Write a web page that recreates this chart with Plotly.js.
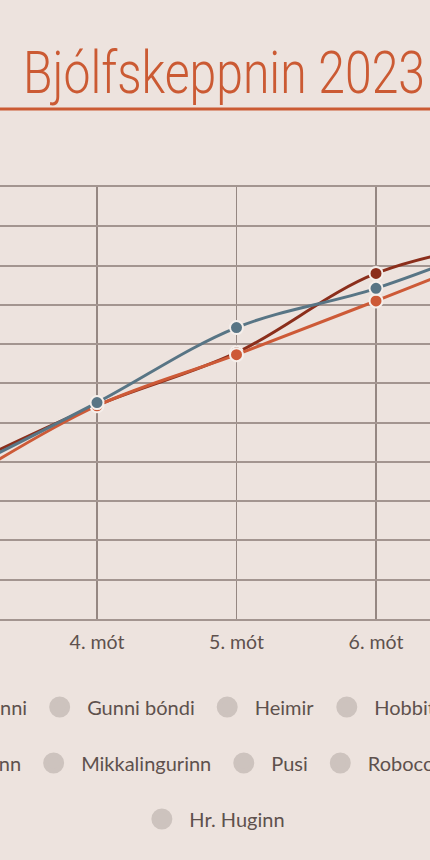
<!DOCTYPE html>
<html><head><meta charset="utf-8">
<script src="https://cdn.plot.ly/plotly-3.0.1.min.js"></script>
<style>
html,body{margin:0;padding:0;overflow:hidden;background:#ede3de;width:430px;height:860px;}
#chart{position:absolute;left:-385px;top:0;width:1200px;height:860px;}
</style></head><body><div id="chart"></div>
<script>
// categories on the x axis
const categories = ['1. mót','2. mót','3. mót','4. mót','5. mót','6. mót','7. mót'];
// rounds with values
const rounds = ['3. mót','4. mót','5. mót','6. mót','7. mót'];
// series values (cumulative score)
const seriesRed    = [38.0, 54.4, 67.8, 88.0, 96.5];
const seriesOrange = [34.2, 54.3, 67.3, 81.0, 95.0];
const seriesBlue   = [37.0, 55.1, 74.2, 84.2, 97.5];
const seriesNames  = ['Bjössi', 'Siggi', 'Jonni'];
// legend rows
const legendRow1 = ['Danni', 'Gunni bóndi', 'Heimir', 'Hobbitinn'];
const legendRow2 = ['Kristinn', 'Mikkalingurinn', 'Pusi', 'Robocop'];
const legendRow3 = ['Hr. Huginn'];
const titleText = 'Bjólfskeppnin 2023';

const C_RED = '#8b2e1b', C_ORANGE = '#cd5a37', C_BLUE = '#587585', C_GREY = '#cdc3be';
const BG = '#ede3de', TXT = '#5e514d', C_TITLE = '#cb5a33';

function lineTrace(name, vals, color, legend, rank) {
  return {
    type: 'scatter', mode: 'lines+markers', name: name, x: rounds, y: vals,
    line: {color: color, width: 3, shape: 'spline', smoothing: 1},
    marker: {size: 13, color: color, line: {width: 2, color: '#f5efeb'}},
    legend: legend, legendrank: rank, hoverinfo: 'skip'
  };
}
function greyTrace(name, legend, rank) {
  return {
    type: 'scatter', mode: 'markers', name: name, x: [categories[0]], y: [null],
    marker: {size: 16, color: C_GREY, line: {width: 5, color: C_GREY}},
    legend: legend, legendrank: rank, hoverinfo: 'skip'
  };
}

const traces = [];
traces.push(lineTrace(seriesNames[0], seriesRed, C_RED, 'legend', 1));
traces.push(lineTrace(seriesNames[1], seriesOrange, C_ORANGE, 'legend2', 10));
traces.push(lineTrace(seriesNames[2], seriesBlue, C_BLUE, 'legend2', 1));
legendRow1.forEach((n, i) => traces.push(greyTrace(n, 'legend', 2 + i)));
legendRow2.forEach((n, i) => traces.push(greyTrace(n, 'legend2', 2 + i)));
legendRow3.forEach((n, i) => traces.push(greyTrace(n, 'legend3', 1 + i)));

function legendCfg(x, y) {
  return {
    orientation: 'h', xref: 'paper', yref: 'container', x: x, xanchor: 'center',
    y: y, yanchor: 'middle', bgcolor: 'rgba(0,0,0,0)', itemwidth: 45,
    font: {family: 'Lato, sans-serif', size: 20, color: TXT}, itemclick: false, itemdoubleclick: false
  };
}

const layout = {
  width: 1200, height: 860, showlegend: true,
  paper_bgcolor: BG, plot_bgcolor: BG,
  margin: {l: 0, r: 0, t: 187, b: 241, autoexpand: false},
  title: {
    text: titleText, xref: 'container', yref: 'container', x: 0.5075, xanchor: 'center',
    y: 1 - 72 / 860, yanchor: 'middle',
    font: {family: 'Roboto, sans-serif', size: 60, weight: 300, color: C_TITLE}
  },
  xaxis: {
    type: 'category', categoryorder: 'array', categoryarray: categories,
    range: [-0.4552, 8.147], showgrid: true, gridcolor: '#958782', gridwidth: 1.5,
    zeroline: false, showline: true, mirror: true, linecolor: '#a39590', linewidth: 2,
    ticks: '', ticklabelstandoff: 5,
    tickfont: {family: 'Lato, sans-serif', size: 19.5, color: TXT}, fixedrange: true
  },
  yaxis: {
    range: [0, 110], dtick: 10, tick0: 0, showgrid: true, gridcolor: '#a39590', gridwidth: 2,
    zeroline: false, showline: false, showticklabels: false, ticks: '', fixedrange: true
  },
  shapes: [{
    type: 'line', xref: 'paper', yref: 'paper', x0: 0, x1: 1,
    y0: (619.3 - 109) / 432.3, y1: (619.3 - 109) / 432.3,
    line: {color: C_TITLE, width: 3}
  }],
  legend: legendCfg(0.4364, 1 - 707 / 860),
  legend2: legendCfg(0.4637, 1 - 763 / 860),
  legend3: legendCfg(0.4978, 1 - 819 / 860),
  hovermode: false
};

Plotly.newPlot('chart', traces, layout, {displayModeBar: false, staticPlot: true}).then(function (gd) {
  // condense the title glyphs to the width of the reference lettering
  var t = gd.querySelector('.gtitle');
  if (t) { t.setAttribute('textLength', '402'); t.setAttribute('lengthAdjust', 'spacingAndGlyphs'); }
});
</script>
</body></html>
